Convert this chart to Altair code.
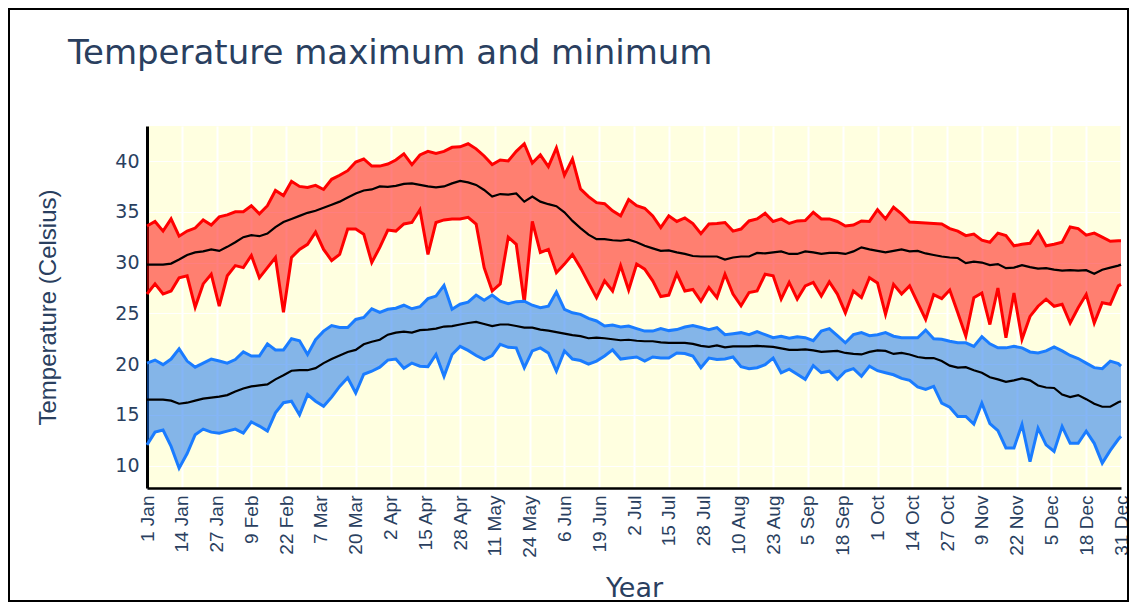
import altair as alt
import pandas as pd

# Day-of-year positions (0 = 1 Jan, 364 = 31 Dec), read every 3 days
DAYS = list(range(0, 364, 3)) + [364]

# Highest daily maximum (upper red)
MAX_HI = [33.6, 34.05, 33.1, 34.3, 32.6, 33.1, 33.4, 34.2, 33.7, 34.5,
          34.7, 35.0, 35.0, 35.6, 34.8, 35.6, 37.1, 36.6, 38.0, 37.5,
          37.4, 37.6, 37.2, 38.2, 38.6, 39.05, 39.9, 40.2, 39.5, 39.5,
          39.7,
          40.1, 40.7, 39.65, 40.6, 40.95, 40.75, 40.95, 41.35, 41.4, 41.7,
          41.2, 40.5, 39.65, 40.1, 40.0, 40.95, 41.7, 39.8, 40.6, 39.45,
          41.3, 38.6, 40.2, 37.25, 36.5, 35.9, 35.8, 35.1, 34.6, 36.2,
          35.6, 35.35, 34.6, 33.45, 34.6, 34.05, 34.4, 33.85, 32.85, 33.8,
          33.85, 33.95, 33.1, 33.3, 34.1, 34.3, 34.85, 34.05, 34.3, 33.85,
          34.1, 34.15, 34.95, 34.3, 34.3, 34.05, 33.6, 33.7, 34.1, 34.05,
          35.2,
          34.3, 35.45, 34.8, 34.0, 33.95, 33.9, 33.85, 33.8, 33.35, 33.1,
          32.65, 32.8, 32.2, 32.0, 32.9, 32.65, 31.65, 31.8, 31.9, 33.05,
          31.65, 31.8, 32.0, 33.5, 33.35, 32.7, 32.9, 32.5, 32.1, 32.15,
          32.15]

# Mean daily maximum (black, upper)
MEAN_HI = [29.8, 29.8, 29.8, 29.9, 30.3, 30.75, 31.0, 31.1, 31.3, 31.15,
           31.55, 32.0, 32.5, 32.7, 32.6, 32.85, 33.5, 34.0, 34.3, 34.6,
           34.9, 35.1, 35.4, 35.7, 36.0, 36.4, 36.8, 37.1, 37.2, 37.5,
           37.45,
           37.55, 37.75, 37.8, 37.65, 37.5, 37.4, 37.5, 37.8, 38.05, 37.9,
           37.65, 37.15, 36.5, 36.75, 36.7, 36.8, 36.0, 36.5, 36.0, 35.75,
           35.55, 34.95, 34.1, 33.4, 32.75, 32.3, 32.3, 32.2, 32.15, 32.25,
           32.0, 31.65, 31.4, 31.15, 31.2, 31.0, 30.85, 30.65, 30.6, 30.6,
           30.6, 30.3, 30.5, 30.6, 30.6, 30.95, 30.9, 31.0, 31.1, 30.85,
           30.85, 31.1, 31.0, 30.85, 30.95, 30.95, 30.85, 31.1, 31.5, 31.3,
           31.15,
           31.0, 31.15, 31.3, 31.1, 31.15, 30.9, 30.75, 30.6, 30.5, 30.45,
           29.95, 30.1, 30.0, 29.75, 29.85, 29.45, 29.5, 29.75, 29.55, 29.4,
           29.45, 29.3, 29.2, 29.25, 29.2, 29.25, 28.9, 29.3, 29.5, 29.7,
           29.8]

# Lowest daily maximum (lower red)
MIN_HI = [26.9, 27.9, 26.9, 27.2, 28.5, 28.7, 25.6, 27.9, 28.85, 25.7,
          28.7, 29.7, 29.5, 30.7, 28.5, 29.5, 30.5, 25.1, 30.5, 31.3,
          31.8, 33.0, 31.3, 30.2, 30.8, 33.3, 33.3, 32.8, 30.0, 31.5,
          33.2,
          33.1, 33.8, 33.95, 35.2, 30.8, 33.95, 34.2, 34.3, 34.3, 34.45,
          33.8, 29.5, 27.2, 27.9, 32.5, 31.8, 26.05, 34.05, 31.0, 31.3,
          29.0, 29.85, 30.8, 29.5, 28.0, 26.55, 28.2, 27.2, 29.7, 27.3,
          29.85, 29.35, 28.2, 26.65, 26.8, 28.9, 27.2, 27.35, 26.2, 27.55,
          26.55, 28.85, 26.9, 25.75, 27.05, 27.2, 28.85, 28.7, 26.4, 28.05,
          26.4, 27.7, 28.05, 26.7, 28.1, 26.9, 25.05, 27.2, 26.55, 28.5,
          28.0,
          24.9, 27.85, 26.9, 27.7, 26.05, 24.4, 26.85, 26.45, 27.3, 25.05,
          22.75, 26.55, 27.0, 23.9, 27.5, 22.6, 27.0, 22.45, 24.7, 25.7,
          26.4, 25.7, 25.9, 24.05, 25.55, 26.85, 24.05, 26.05, 25.9, 27.7,
          27.85]

# Highest daily minimum (upper blue)
MAX_LO = [20.1, 20.4, 19.95, 20.5, 21.5, 20.3, 19.7, 20.1, 20.5, 20.3,
          20.1, 20.45, 21.2, 20.8, 20.8, 22.0, 21.4, 21.4, 22.5, 22.3,
          20.95, 22.4, 23.25, 23.8, 23.6, 23.6, 24.4, 24.6, 25.45, 25.1,
          25.4,
          25.5, 25.8, 25.45, 25.65, 26.45, 26.7, 27.75, 25.4, 25.9, 26.1,
          26.8, 26.3, 26.8, 26.2, 25.95, 26.15, 26.2, 25.8, 25.55, 25.7,
          27.1, 25.4, 25.05, 24.9, 24.5, 24.25, 23.75, 23.85, 23.65, 23.75,
          23.5, 23.25, 23.25, 23.5, 23.3, 23.4, 23.65, 23.8, 23.6, 23.4,
          23.6, 22.9, 23.0, 23.1, 22.9, 23.2, 22.9, 22.6, 22.75, 22.55,
          22.7, 22.6, 22.3, 23.25, 23.5, 22.8, 22.1, 22.9, 23.1, 22.8,
          22.9,
          23.1, 22.75, 22.6, 22.6, 22.6, 23.35, 22.5, 22.45, 22.25, 22.1,
          22.1, 21.75, 22.7, 22.0, 21.6, 21.6, 21.75, 21.6, 21.2, 21.1,
          21.3, 21.7, 21.3, 20.85, 20.55, 20.1, 19.65, 19.55, 20.3, 20.05,
          19.8]

# Mean daily minimum (black, lower)
MEAN_LO = [16.5, 16.5, 16.5, 16.4, 16.1, 16.2, 16.4, 16.6, 16.7, 16.8,
           16.95, 17.3, 17.6, 17.8, 17.9, 18.0, 18.5, 18.9, 19.35, 19.4,
           19.4, 19.6, 20.1, 20.5, 20.85, 21.2, 21.4, 21.95, 22.2, 22.4,
           22.9,
           23.1, 23.2, 23.1, 23.35, 23.4, 23.5, 23.7, 23.75, 23.9, 24.05,
           24.15, 23.95, 23.75, 23.9, 23.9, 23.75, 23.6, 23.6, 23.4, 23.3,
           23.15, 23.0, 22.85, 22.75, 22.55, 22.6, 22.55, 22.45, 22.35, 22.4,
           22.3, 22.25, 22.25, 22.15, 22.1, 22.1, 22.1, 22.0, 21.8, 21.7,
           21.85, 21.65, 21.75, 21.75, 21.75, 21.8, 21.75, 21.7, 21.55, 21.4,
           21.4, 21.45, 21.35, 21.2, 21.25, 21.3, 21.1, 21.0, 20.95, 21.2,
           21.35,
           21.3, 21.0, 21.1, 20.95, 20.7, 20.6, 20.6, 20.3, 19.85, 19.65,
           19.7, 19.4, 19.15, 18.7, 18.5, 18.25, 18.4, 18.6, 18.4, 17.9,
           17.7, 17.65, 17.0, 16.75, 16.95, 16.55, 16.1, 15.8, 15.8, 16.25,
           16.35]

# Lowest daily minimum (lower blue)
MIN_LO = [12.05, 13.3, 13.5, 11.9, 9.75, 11.2, 13.05, 13.6, 13.3, 13.2,
          13.4, 13.6, 13.2, 14.3, 13.9, 13.4, 15.2, 16.2, 16.35, 15.0,
          17.0, 16.35, 15.85, 16.75, 17.8, 18.65, 17.15, 19.0, 19.3, 19.7,
          20.4,
          20.5, 19.6, 20.1, 19.8, 19.75, 20.95, 18.8, 20.95, 21.75, 21.35,
          20.85, 20.45, 20.85, 21.95, 21.65, 21.6, 19.65, 21.3, 21.6, 21.1,
          19.3, 21.3, 20.5, 20.35, 20.0, 20.3, 20.8, 21.4, 20.5, 20.6,
          20.7, 20.3, 20.7, 20.6, 20.6, 21.1, 21.05, 20.8, 19.65, 20.6,
          20.45, 20.5, 20.7, 19.75, 19.55, 19.65, 19.95, 20.6, 19.15, 19.5,
          19.0, 18.5, 19.85, 19.15, 19.3, 18.5, 19.3, 19.55, 18.8, 19.8,
          19.35,
          19.15, 18.95, 18.6, 18.4, 17.75, 17.5, 17.8, 16.15, 15.75, 14.85,
          14.85, 14.1, 16.15, 14.15, 13.45, 11.75, 11.75, 14.05, 10.4, 13.7,
          12.05, 11.4, 13.85, 12.2, 12.2, 13.4, 12.2, 10.25, 11.5, 12.6,
          12.9]

TICK_LABELS = ["1 Jan", "14 Jan", "27 Jan", "9 Feb", "22 Feb", "7 Mar",
               "20 Mar", "2 Apr", "15 Apr", "28 Apr", "11 May", "24 May",
               "6 Jun", "19 Jun", "2 Jul", "15 Jul", "28 Jul", "10 Aug",
               "23 Aug", "5 Sep", "18 Sep", "1 Oct", "14 Oct", "27 Oct",
               "9 Nov", "22 Nov", "5 Dec", "18 Dec", "31 Dec"]
TICK_DAYS = [i * 13 for i in range(len(TICK_LABELS))]
Y_TICKS = [10, 15, 20, 25, 30, 35, 40]

for arr in (MAX_HI, MEAN_HI, MIN_HI, MAX_LO, MEAN_LO, MIN_LO):
    assert len(arr) == len(DAYS), len(arr)

df = pd.DataFrame({
    "day": DAYS,
    "max_hi": MAX_HI, "mean_hi": MEAN_HI, "min_hi": MIN_HI,
    "max_lo": MAX_LO, "mean_lo": MEAN_LO, "min_lo": MIN_LO,
})

TXT = "#2a3f5f"
W, H = 974, 362
PAD = {"left": 139, "top": 118, "right": 9, "bottom": 115}

x_scale = alt.Scale(domain=[0, 364], nice=False, zero=False)
y_scale = alt.Scale(domain=[7.8, 43.45], nice=False, zero=False)
label_expr = "[" + ",".join("'%s'" % s for s in TICK_LABELS) + "][round(datum.value / 13)]"

x_axis = alt.Axis(values=TICK_DAYS, labelExpr=label_expr, labelAngle=270,
                  labelFont="Liberation Sans", labelFontSize=19, labelColor=TXT,
                  labelPadding=7, labelFlush=False, labelOverlap=False,
                  ticks=False, domainColor="black", domainWidth=2.5,
                  grid=True, gridColor="white", gridWidth=2,
                  titleFont="DejaVu Sans", titleFontSize=27, titleFontWeight="normal",
                  titleColor=TXT, titleY=100, titleBaseline="middle")
y_axis = alt.Axis(values=Y_TICKS, labelFont="DejaVu Sans", labelFontSize=19,
                  labelColor=TXT, labelPadding=8, ticks=False,
                  domainColor="black", domainWidth=3,
                  grid=True, gridColor="white", gridWidth=1.2,
                  titleFont="Liberation Sans", titleFontSize=24, titleFontWeight="normal",
                  titleColor=TXT, titleX=-99, titleY=H / 2, titleBaseline="middle",
                  titleAngle=270)


def X():
    return alt.X("day:Q", scale=x_scale, axis=x_axis, title="Year")


def Y(field):
    return alt.Y(field + ":Q", scale=y_scale, axis=y_axis, title="Temperature (Celsius)")


base = alt.Chart(df)
RED = "#ff0000"
BLUE = "#1a7cff"

red_band = base.mark_area(color=RED, fillOpacity=0.5, strokeWidth=0).encode(
    x=X(), y=Y("min_hi"), y2=alt.Y2("max_hi"))
red_top = base.mark_line(color=RED, strokeWidth=3).encode(x=X(), y=Y("max_hi"))
red_bot = base.mark_line(color=RED, strokeWidth=3).encode(x=X(), y=Y("min_hi"))
black_hi = base.mark_line(color="black", strokeWidth=2.2).encode(x=X(), y=Y("mean_hi"))

blue_band = base.mark_area(color="#0a6cf0", fillOpacity=0.5, strokeWidth=0).encode(
    x=X(), y=Y("min_lo"), y2=alt.Y2("max_lo"))
blue_top = base.mark_line(color=BLUE, strokeWidth=3).encode(x=X(), y=Y("max_lo"))
blue_bot = base.mark_line(color=BLUE, strokeWidth=3).encode(x=X(), y=Y("min_lo"))
black_lo = base.mark_line(color="black", strokeWidth=2.2).encode(x=X(), y=Y("mean_lo"))

# thin frame around the whole figure (decoration, in pixels of the svg)
frame = alt.Chart(alt.Data(values=[{"k": 1}])).mark_rect(
    filled=False, stroke="black", strokeWidth=2).encode(
    x=alt.value(-PAD["left"] + 1), x2=alt.value(W + PAD["right"] - 2),
    y=alt.value(-PAD["top"] + 1), y2=alt.value(H + PAD["bottom"] - 2))

chart = alt.layer(
    red_band, red_top, red_bot, black_hi,
    blue_band, blue_top, blue_bot, black_lo, frame
).properties(
    width=W, height=H,
    autosize=alt.AutoSizeParams(type="none"),
    padding=PAD,
    background="white",
    title=alt.TitleParams(text="Temperature maximum and minimum", anchor="start",
                          frame="group", dx=-79, offset=0, dy=90, baseline="alphabetic",
                          font="DejaVu Sans", fontSize=34, fontWeight="normal",
                          color=TXT),
).configure_view(fill="#FFFFE0", stroke=None)

chart.save("out.html", embed_options={"renderer": "svg", "actions": False})
